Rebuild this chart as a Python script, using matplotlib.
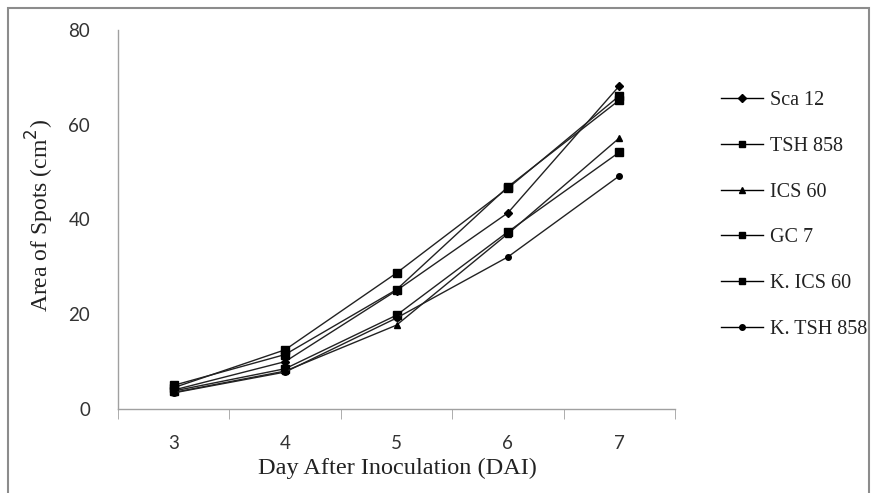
import matplotlib
matplotlib.use("Agg")
import matplotlib.pyplot as plt
from matplotlib.lines import Line2D
from matplotlib.patches import Rectangle

days = [3, 4, 5, 6, 7]
series_names = ["Sca 12", "TSH 858", "ICS 60", "GC 7", "K. ICS 60", "K. TSH 858"]
sca12 = [4.0, 10.0, 25.0, 41.4, 68.2]
tsh858 = [4.5, 12.5, 28.7, 46.6, 66.1]
ics60 = [3.5, 8.0, 17.7, 37.0, 57.2]
gc7 = [5.0, 11.5, 25.2, 46.9, 65.2]
k_ics60 = [3.8, 8.5, 19.8, 37.4, 54.2]
k_tsh858 = [3.4, 7.8, 19.2, 32.1, 49.2]
markers = ["D", "s", "^", "s", "s", "o"]
msizes = [4, 6, 5, 6, 6, 4]
y_ticks = [0, 20, 40, 60, 80]

W, H = 877, 493
fig = plt.figure(figsize=(W / 100, H / 100), dpi=100)
fig.patch.set_facecolor("white")
fig.add_artist(Rectangle((8 / W, -0.05), (869 - 8) / W, 1.05 - 8 / H,
                         transform=fig.transFigure, fill=False,
                         edgecolor="#8c8c8c", linewidth=1.5))

ax = fig.add_axes([118 / W, 1 - 409 / H, (675 - 118) / W, (409 - 30) / H])
data = [sca12, tsh858, ics60, gc7, k_ics60, k_tsh858]
handles = []
for name, vals, m, ms in zip(series_names, data, markers, msizes):
    ax.plot(days, vals, color="#222222", linewidth=1.0, marker=m,
            markersize=ms, markerfacecolor="black", markeredgecolor="black",
            label=name)
    handles.append(Line2D([0], [0], color="black", linewidth=1.0, marker=m,
                          markersize=4, markerfacecolor="black"))

ax.set_xlim(2.5, 7.5)
ax.set_ylim(0, 80)
ax.set_yticks(y_ticks)
ax.set_xticks(days)
ax.set_xticks([2.5, 3.5, 4.5, 5.5, 6.5, 7.5], minor=True)
ax.tick_params(axis="x", which="major", length=0, pad=19)
ax.tick_params(axis="x", which="minor", length=7, direction="out", color="#a0a0a0")
ax.tick_params(axis="y", length=0, pad=20)
for lab in ax.get_xticklabels() + ax.get_yticklabels():
    lab.set_fontfamily("Lato")
    lab.set_fontsize(13.5)
    lab.set_color("#333333")
for s in ["top", "right"]:
    ax.spines[s].set_visible(False)
for s in ["left", "bottom"]:
    ax.spines[s].set_color("#a0a0a0")
    ax.spines[s].set_linewidth(1.0)

fig.text(397 / W, 1 - 468 / H, "Day After Inoculation (DAI)", ha="center", va="center",
         fontfamily="Liberation Serif", fontsize=17.5, color="#222222")
fig.text(40 / W, 1 - 216 / H, "Area of Spots (cm$^2$)", ha="center", va="center",
         rotation=90, fontfamily="Liberation Serif", fontsize=17, color="#222222")

leg = fig.legend(handles, series_names, loc="upper left",
                 bbox_to_anchor=(703 / W, 1 - 73 / H), frameon=False,
                 prop={"family": "Liberation Serif", "size": 14.5},
                 handlelength=2.1, labelspacing=1.32, handletextpad=0.35)
for t in leg.get_texts():
    t.set_color("#222222")

fig.savefig("out.png", dpi=100)
